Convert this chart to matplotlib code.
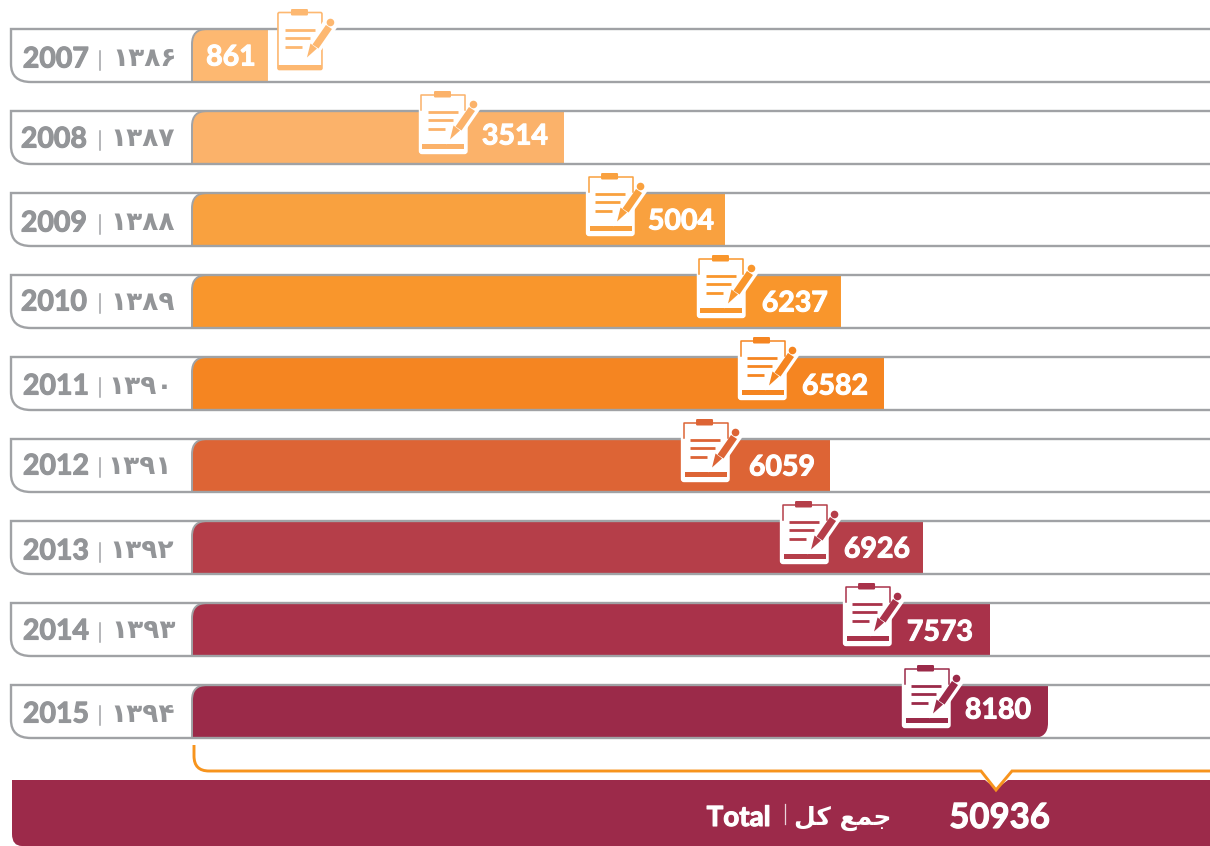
import matplotlib
matplotlib.use("Agg")
import matplotlib.pyplot as plt
import matplotlib.patheffects as pe
from matplotlib.path import Path
from matplotlib.patches import PathPatch, Rectangle, FancyBboxPatch, Circle, Polygon

# ---- data -------------------------------------------------------------
years = ["2007", "2008", "2009", "2010", "2011", "2012", "2013", "2014", "2015"]
years_fa = ["۱۳۸۶", "۱۳۸۷", "۱۳۸۸", "۱۳۸۹", "۱۳۹۰", "۱۳۹۱", "۱۳۹۲", "۱۳۹۳", "۱۳۹۴"]
printed_values = [861, 3514, 5004, 6237, 6582, 6059, 6926, 7573, 8180]
# bar lengths as actually drawn in the graphic (same unit)
drawn_values = [722, 3536, 5067, 6169, 6578, 6065, 6949, 7586, 8137]
total_value = 50936
total_label_en = "Total"
total_label_fa = "\ufede\ufedb \ufeca\ufee4\ufe9f"  # shaped forms of the Persian label, visual order

# ---- styles / layout --------------------------------------------------
bar_colors = ["#FDB871", "#FBB26A", "#F9A13F", "#F9962C", "#F58521",
              "#DD6435", "#B53E49", "#A9324A", "#9B2A49"]
GRAY = "#A0A2A5"
TEXT_GRAY = "#939598"
BAND = "#9C2A4A"
ORANGE = "#F7941D"
W, H = 1210, 846
X0, SCALE = 192, 0.1052
Y0, PITCH, BAR_H = 55.5, 82, 53
LATO = ["Lato", "DejaVu Sans"]
FA = ["DejaVu Sans"]

year_cx = [56, 54, 54, 54, 56, 56, 56, 56, 56]
year_dy = [5, 3, 5, 2, 4, 2, 5, 3, 4]
fa_right = [177, 175, 175, 175, 173, 172, 174, 176, 175]
label_off = [-37, -49, -44, -46, -49, -48, -46, -50, -50]
label_dy = [2, -1, 2, 2, 3, 2, 2, 3, -1]
icon_off = [8, -145, -139, -144, -146, -149, -143, -147, -146]

fig = plt.figure(figsize=(W / 100, H / 100), dpi=100, facecolor="white")
ax = fig.add_axes([0, 0, 1, 1], zorder=3)
ax.set_xlim(-X0 / SCALE, (W - X0) / SCALE)
ax.set_ylim((H - Y0) / PITCH, -Y0 / PITCH)
ax.axis("off"); ax.patch.set_alpha(0)
px = fig.add_axes([0, 0, 1, 1], zorder=4)
px.set_xlim(0, W); px.set_ylim(H, 0); px.axis("off"); px.patch.set_alpha(0)
top = fig.add_axes([0, 0, 1, 1], zorder=5)
top.set_xlim(0, W); top.set_ylim(H, 0); top.axis("off"); top.patch.set_alpha(0)


def rpath(verts):
    """verts: list of (x, y) or ('q', ctrl, end) segments."""
    v, c = [], []
    for p in verts:
        if p[0] == "q":
            v += [p[1], p[2]]; c += [Path.CURVE3, Path.CURVE3]
        else:
            v.append(p); c.append(Path.MOVETO if not c else Path.LINETO)
    return Path(v, c)


def label(axis, x, y, s, col, size, **k):
    t = axis.text(x, y, s, family=LATO, weight="bold", fontsize=size, color=col,
                  ha=k.pop("ha", "center"), va="center", zorder=6)
    t.set_path_effects([pe.withStroke(linewidth=0.8, foreground=col)])
    return t


# ---- row frames and bars ----------------------------------------------
bars = ax.barh(range(len(drawn_values)), drawn_values, height=BAR_H / PITCH,
               color=bar_colors, linewidth=0, zorder=2)
for i, rect in enumerate(bars):
    c = Y0 + PITCH * i
    t, b = c - BAR_H / 2, c + BAR_H / 2
    frame = rpath([(W + 5, t), (11, t), (11, b - 18), ("q", (11, b), (31, b)), (W + 5, b)])
    px.add_patch(PathPatch(frame, fill=False, ec=GRAY, lw=1.7, zorder=3))
    e = X0 + drawn_values[i] * SCALE
    if i == len(drawn_values) - 1:
        clip = rpath([(X0 + 15, t), (e, t), (e, b - 15), ("q", (e, b), (e - 15, b)),
                      (X0, b), (X0, t + 15), ("q", (X0, t), (X0 + 15, t))])
    else:
        clip = rpath([(X0 + 15, t), (e, t), (e, b), (X0, b), (X0, t + 15),
                      ("q", (X0, t), (X0 + 15, t))])
    rect.set_clip_path(clip, px.transData)
    div = rpath([(X0 + 15, t), ("q", (X0, t), (X0, t + 15)), (X0, b)])
    px.add_patch(PathPatch(div, fill=False, ec=GRAY, lw=1.4, zorder=3))
    # year labels
    label(px, year_cx[i], c + year_dy[i] - 1, years[i], TEXT_GRAY, 20.5)
    px.plot([100, 100], [c - 9 + year_dy[i], c + 10 + year_dy[i]], color=GRAY, lw=1.1, zorder=6)
    px.text(fa_right[i], c + year_dy[i] - 1, years_fa[i], family=FA, weight="bold", fontsize=19,
            color=TEXT_GRAY, ha="right", va="center", zorder=6)
    # value labels
    ann = ax.annotate(str(printed_values[i]), xy=(drawn_values[i], i),
                      xytext=(label_off[i] * 0.72, -label_dy[i] * 0.72), textcoords="offset points",
                      family=LATO, weight="bold", fontsize=20.5, color="white",
                      ha="center", va="center", zorder=6)
    ann.set_path_effects([pe.withStroke(linewidth=0.8, foreground="white")])


# ---- clipboard icon ---------------------------------------------------
def icon(ox, oy, col, on_white):
    if on_white:
        top.add_patch(FancyBboxPatch((ox + 2, oy + 4), 44, 57,
                                     boxstyle="round,pad=0,rounding_size=1.5",
                                     fc="white", ec=col, lw=1.2))
        top.add_patch(Rectangle((ox + 2, oy + 57), 44, 4.5, fc=col, lw=0))
    else:
        top.add_patch(FancyBboxPatch((ox + 0.5, oy + 5), 47.5, 58,
                                     boxstyle="round,pad=0,rounding_size=2.5",
                                     fc="white", ec="white", lw=1))
        top.plot([ox + 2.5, ox + 2.5, ox + 46.5, ox + 46.5],
                 [oy + 20, oy + 4.5, oy + 4.5, oy + 20], color=col, lw=1.1)
        top.add_patch(Rectangle((ox + 3.5, oy + 54), 42, 5, fc=col, lw=0))
    top.add_patch(FancyBboxPatch((ox + 15, oy + 0.5), 17, 6.5,
                                 boxstyle="round,pad=0,rounding_size=1.2", fc=col, lw=0))
    for y, x2 in [(22, 39), (30, 34), (39, 26)]:
        top.plot([ox + 9, ox + x2], [oy + y, oy + y], color=col, lw=2, solid_capstyle="butt")
    # pen: halo, body, tip, eraser
    pen = [(31, 49), (35, 34), (51, 11), (60, 17), (44, 40)]
    top.add_patch(Polygon([(ox + x, oy + y) for x, y in pen], fc="white", ec="white", lw=3))
    body = [(36.5, 36), (50, 16.5), (56, 20.5), (42.5, 40)]
    top.add_patch(Polygon([(ox + x, oy + y) for x, y in body], fc=col, lw=0))
    tip = [(31, 49), (34.5, 35), (41, 40)]
    top.add_patch(Polygon([(ox + x, oy + y) for x, y in tip], fc=col, lw=0))
    top.add_patch(Circle((ox + 54.5, oy + 14), 3.8, fc=col, lw=0))


for i in range(len(drawn_values)):
    e = X0 + drawn_values[i] * SCALE
    icon(e + icon_off[i], Y0 + PITCH * i - 47, bar_colors[i], i == 0)

# ---- total band and bracket -------------------------------------------
band = rpath([(12, 780), (W, 780), (W, H), (22, H), ("q", (12, H), (12, 834)), (12, 780)])
px.add_patch(PathPatch(band, fc=BAND, ec="none", zorder=2))
bracket = rpath([(194, 745), (194, 756), ("q", (194, 771), (209, 771)), (981, 771),
                 (996, 790), (1012, 771), (W, 771)])
px.add_patch(PathPatch(bracket, fill=False, ec=ORANGE, lw=2.1, zorder=3))
px.add_patch(Polygon([(985, 780), (1008, 780), (996, 789)], fc="white", lw=0, zorder=2.5))
label(px, 738.5, 818, total_label_en, "white", 20)
px.plot([785, 785], [804, 824], color="white", lw=0.9, alpha=0.8, zorder=6)
px.text(843, 818, total_label_fa, family=FA, weight="bold", fontsize=18,
        color="white", ha="center", va="center", zorder=6)
label(px, 999.5, 818, str(total_value), "white", 25)

fig.savefig("out.png", dpi=100)
